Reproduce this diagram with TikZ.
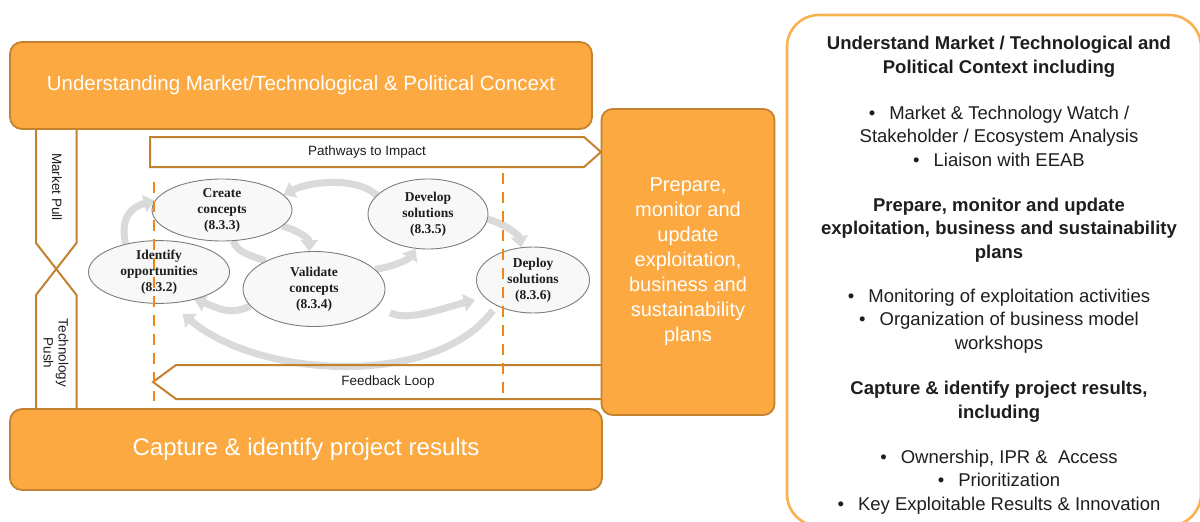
\documentclass[tikz,border=0pt]{standalone}
\usepackage{fontspec}
\setmainfont{Liberation Sans}
\newfontfamily\serifb{Liberation Serif}
\usetikzlibrary{shapes.geometric,arrows.meta}
\pgfdeclarelayer{bg}
\pgfdeclarelayer{back}
\pgfsetlayers{back,bg,main}
\definecolor{orfill}{RGB}{251,169,64}
\definecolor{orline}{RGB}{196,130,48}
\definecolor{dashcol}{RGB}{240,135,20}
\definecolor{panelline}{RGB}{250,178,80}
\definecolor{grayarr}{RGB}{218,218,218}
\definecolor{ellfill}{RGB}{248,248,248}
\definecolor{ellline}{RGB}{125,125,125}
\definecolor{txt}{RGB}{30,30,30}
\begin{document}
\begin{tikzpicture}[x=1pt,y=-1pt,
  obox/.style={draw=orline, fill=orfill, line width=1.8pt, rounded corners=12pt, text=white, align=center, inner sep=0pt},
  ell/.style={ellipse, draw=ellline, fill=ellfill, line width=0.9pt, inner sep=0pt, align=center, text=txt,
     font=\serifb\bfseries\fontsize{13.5}{16}\selectfont},
  garr/.style={draw=grayarr, line width=7pt, -{Triangle[width=17pt,length=11pt]}},
  gline/.style={draw=grayarr, line width=7pt},
  dashline/.style={draw=dashcol, line width=2.2pt, dash pattern=on 11pt off 8pt},
  arrbox/.style={draw=orline, line width=2pt, line join=miter},
  bar/.style={draw=orline, line width=2pt},
  lbl/.style={text=txt, font=\fontsize{13.5}{15}\selectfont, inner sep=0pt},
  phead/.style={text=txt, align=center, font=\bfseries\fontsize{18.5}{23.5}\selectfont, inner sep=0pt},
  pbody/.style={text=txt, align=center, font=\fontsize{18.5}{23.5}\selectfont, inner sep=0pt}
]
\useasboundingbox (0,0) rectangle (1200,522);
\begin{pgfonlayer}{back}
\fill[white] (0,0) rectangle (1200,522);
\end{pgfonlayer}

% right panel
\draw[draw=panelline, line width=2.6pt, rounded corners=32pt] (787,15) rectangle (1201,526);
\node[phead] (h1) at (999,57) {Understand Market / Technological and\\Political Context including};
\node[pbody] (b1) at (999,136) {\textbullet\hspace{14pt}Market \& Technology Watch /\\Stakeholder / Ecosystem Analysis\\\textbullet\hspace{14pt}Liaison with EEAB};
\node[phead] (h2) at (999,230) {Prepare, monitor and update\\exploitation, business and sustainability\\plans};
\node[pbody] (b2) at (999,321) {\textbullet\hspace{14pt}Monitoring of exploitation activities\\\textbullet\hspace{14pt}Organization of business model\\workshops};
\node[phead] (h3) at (999,402) {Capture \& identify project results,\\including};
\node[pbody] (b3) at (999,482) {\textbullet\hspace{14pt}Ownership, IPR \&\ \ Access\\\textbullet\hspace{14pt}Prioritization\\\textbullet\hspace{14pt}Key Exploitable Results \& Innovation};

% ellipses
\node[ell, minimum width=140pt, minimum height=62pt] (create) at (222,210) {Create\\concepts\\(8.3.3)};
\node[ell, minimum width=120pt, minimum height=70pt] (develop) at (428,214) {Develop\\solutions\\(8.3.5)};
\node[ell, minimum width=141pt, minimum height=58pt] (ident) at (159,272) {Identify\\opportunities\\(8.3.2)};
\node[ell, minimum width=142pt, minimum height=75pt] (validate) at (314,289) {Validate\\concepts\\(8.3.4)};
\node[ell, minimum width=113pt, minimum height=66pt] (deploy) at (533,280) {Deploy\\solutions\\(8.3.6)};

% gray cycle arrows (behind ellipses)
\begin{pgfonlayer}{bg}
\draw[garr] (ident.140) .. controls +(-6,-28) and +(-22,6) .. (create.172);
\draw[garr] (create.-15) .. controls +(16,4) and +(0,-12) .. (validate.97);
\draw[garr] (validate.18) .. controls +(18,-2) and +(-6,10) .. (develop.250);
\draw[garr] (develop.160) .. controls +(-18,-18) and +(28,-14) .. (create.14);
\draw[garr] (develop.355) .. controls +(16,4) and +(-2,-12) .. (deploy.110);
\draw[garr, shorten <=14pt, shorten >=10pt] (validate.345) .. controls +(30,16) and +(-40,10) .. (deploy.200);
\draw[garr] (validate.195) .. controls +(-22,10) and +(24,8) .. (ident.322);
\draw[garr, shorten <=6pt, shorten >=16pt] (deploy.215) .. controls +(-60,82) and +(90,76) .. (ident.290);
\draw[gline] (create.290) .. controls +(4,12) and +(-15,-6) .. (validate.150);
\end{pgfonlayer}

% pathways and feedback arrows
\draw[arrbox] (150,137) -- (584,137) -- (601,152) -- (584,167) -- (150,167) -- cycle;
\node[lbl] (pw) at (367,152) {Pathways to Impact};
\draw[arrbox] (610,365) -- (176,365) -- (153,382) -- (176,399) -- (610,399);
\node[lbl] (fb) at (388,382) {Feedback Loop};

% dashed guides
\coordinate (dl1) at (154,182);
\coordinate (dl2) at (154,401);
\coordinate (dr1) at (503,173);
\coordinate (dr2) at (503,401);
\draw[dashline] (dl1) -- (dl2);
\draw[dashline] (dr1) -- (dr2);

% market pull / technology push
\draw[bar] (36,128) -- (36,243) -- (76.5,295) -- (76.5,410);
\draw[bar] (76.5,128) -- (76.5,243) -- (36,295) -- (36,410);
\node[lbl, rotate=-90] (mp) at (57,187) {Market Pull};
\node[lbl, rotate=-90, align=center] (tp) at (56,353) {Technology\\Push};

% orange boxes
\node[obox, minimum width=582pt, minimum height=87pt, font=\fontsize{20.5}{24}\selectfont] (ctx) at (301,85.5) {Understanding Market/Technological \& Political Concext};
\node[obox, minimum width=592pt, minimum height=81pt, font=\fontsize{24}{28}\selectfont] (cap) at (306,449.5) {Capture \& identify project results};
\node[obox, rounded corners=11pt, minimum width=173pt, minimum height=306pt, font=\fontsize{20}{25}\selectfont] (prep) at (688,262) {Prepare,\\monitor and\\update\\exploitation,\\business and\\sustainability\\plans};
\end{tikzpicture}
\end{document}
